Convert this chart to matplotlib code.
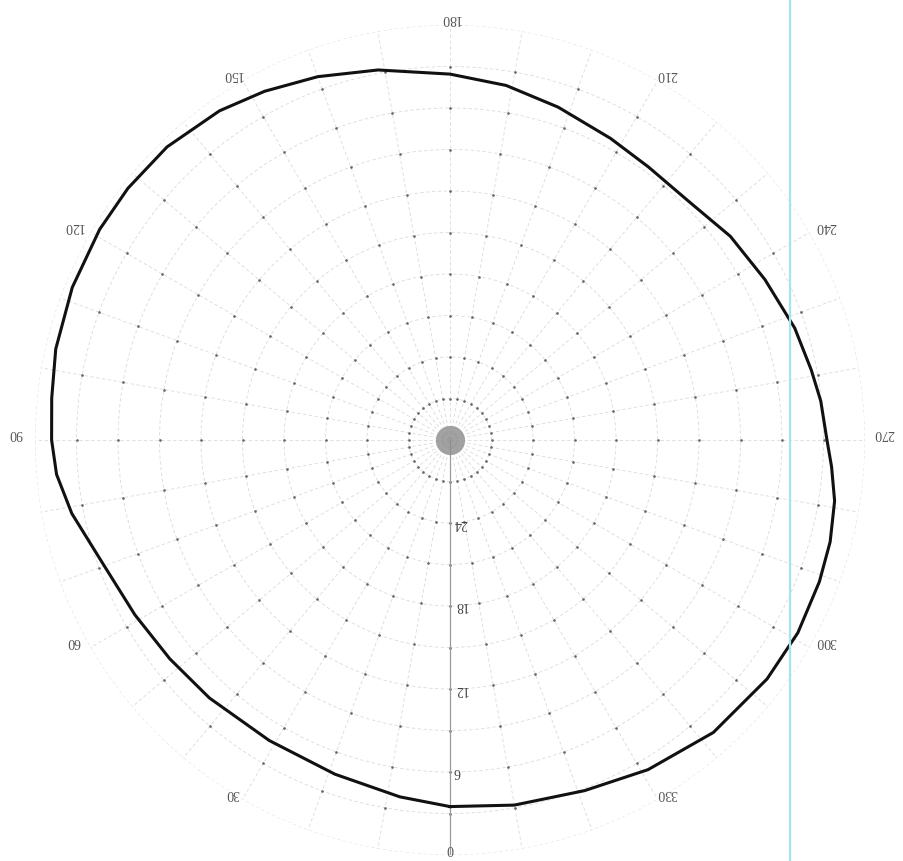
import numpy as np
import matplotlib
matplotlib.use("Agg")
import matplotlib.pyplot as plt
from matplotlib.lines import Line2D

# curve: angle (deg) and radial value (0 = outer ring, 30 = centre)
angle_deg = [0, 8, 19, 31, 43, 52, 61, 71, 79, 85, 90, 96, 103, 112, 121, 128,
             136, 145, 152, 160, 169, 180, 189, 198, 208, 216, 225, 234, 243,
             252, 259, 264, 270, 274, 279, 285, 291, 299, 307, 318, 329, 339, 350]
level = [3.5, 3.95, 4.45, 4.65, 4.5, 4.3, 3.95, 3.3, 2.15, 1.45, 1.2, 1.05, 0.75, 0.55,
         0.45, 0.45, 0.55, 0.95, 1.45, 2.05, 2.75, 3.55, 4.05, 4.7, 5.3, 5.6, 5.6,
         4.95, 4.45, 3.8, 3.4, 3.05, 2.75, 2.35, 1.85, 1.55, 1.4, 1.25, 1.3, 1.55,
         2.2, 2.85, 3.2]

theta_ticks = np.arange(0, 360, 10)
theta_label_deg = np.arange(0, 360, 30)
r_ticks = np.arange(0, 31, 3)
r_label_vals = [6, 12, 18, 24]
R_MAX = 30

plt.rcParams['font.family'] = ['Liberation Serif', 'DejaVu Serif']

fig = plt.figure(figsize=(9.04, 8.61), dpi=100)
ax = fig.add_axes([35 / 904, 6 / 861, 830 / 904, 830 / 861], projection='polar')
ax.set_theta_zero_location('S')
ax.set_theta_direction(-1)
ax.set_ylim(R_MAX, 0)

ax.set_xticks(np.deg2rad(theta_ticks))
ax.set_xticklabels([])
ax.set_yticks(r_ticks)
ax.set_yticklabels([])
ax.grid(True, color='#dadada', lw=0.6, ls=(0, (4, 3)))
ax.spines['polar'].set_visible(False)

# upside-down angle labels just outside the outer ring
for a in theta_label_deg:
    t = np.deg2rad(a)
    ax.annotate(str(a), xy=(t, 0), xytext=(-np.sin(t) * 14, 4.5),
                textcoords='offset points', ha='center', va='center',
                rotation=180, fontsize=10, color='#555555', annotation_clip=False)

# upside-down radial labels beside the zero radial
for r in r_label_vals:
    ax.annotate(str(r), xy=(0, r), xytext=(2.5, 0), textcoords='offset points',
                ha='left', va='center', rotation=180, fontsize=10, color='#444444')

# dots at grid crossings
tt, rr = np.meshgrid(np.deg2rad(theta_ticks), r_ticks[1:-1])
ax.plot(tt.ravel(), rr.ravel(), ls='none', marker='o', ms=1.9, color='#666666', mew=0)

# solid zero radial
ax.axvline(0, color='#9a9a9a', lw=0.9)
# grey blob at centre
ax.plot(0, R_MAX, 'o', ms=21, color='#8c8c8c', alpha=0.8, mew=0)

th = np.deg2rad(angle_deg + angle_deg[:1])
ax.plot(th, level + level[:1], color='#111111', lw=2.2, solid_joinstyle='round')

# scanner streak
fig.add_artist(Line2D([790 / 904, 790 / 904], [0, 1], transform=fig.transFigure,
                      color='#a6e3ec', lw=1.6))

fig.savefig('out.png', dpi=100)
